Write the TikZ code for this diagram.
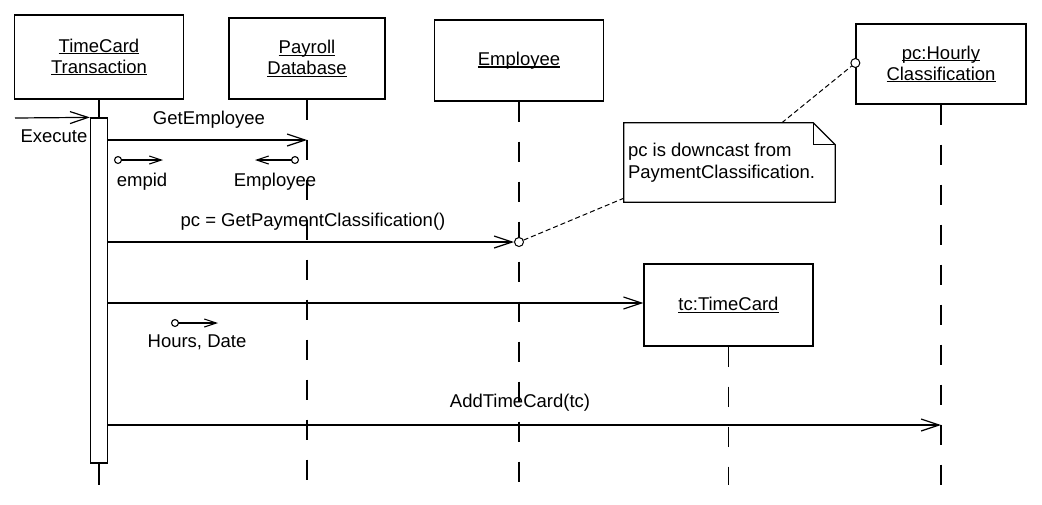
\documentclass[tikz,border=0pt]{standalone}
\usepackage{fontspec}
\setmainfont{Liberation Sans}
\usetikzlibrary{arrows.meta}
\newcommand{\uln}[1]{\setbox0\hbox{#1}\rlap{\rule[-2.4pt]{\wd0}{1.3pt}}\box0}
\begin{document}
\begin{tikzpicture}[x=1pt,y=-1pt,
  every node/.style={font=\fontsize{18.5}{21}\selectfont, inner sep=0pt},
  obj/.style={draw, line width=1.3pt, rectangle, align=center},
  lbl/.style={text height=13pt, text depth=4pt},
  life/.style={line width=1.2pt, dash pattern=on 20pt off 20pt},
  solidlife/.style={line width=1.2pt},
  msg/.style={line width=1.2pt, -{Straight Barb[length=18pt,width=12pt,line width=1.2pt]}},
  tok/.style={line width=1.1pt, {Circle[open,length=8pt,width=8pt,line width=1.1pt]}-{Straight Barb[length=12pt,width=8pt,line width=1.1pt]}},
  anchorc/.style={circle, draw, line width=1pt, minimum size=9pt, inner sep=0pt, fill=white},
  notelink/.style={line width=1pt, dash pattern=on 5pt off 3pt},
]
\useasboundingbox (0,0) rectangle (1042,504);
\fill[white] (0,0) rectangle (1042,504);

% objects
\node[obj, minimum width=169pt, minimum height=84pt] (tct) at (99,57) {\uln{TimeCard}\\\uln{Transaction}};
\node[obj, minimum width=156pt, minimum height=81pt] (pdb) at (307,58.5) {\uln{Payroll}\\\uln{Database}};
\node[obj, minimum width=169pt, minimum height=81pt] (emp) at (519,60.5) {\uln{Employee}};
\node[obj, minimum width=170pt, minimum height=80pt] (pch) at (941,64) {\uln{pc:Hourly}\\\uln{Classification}};
\node[obj, minimum width=169pt, minimum height=82pt] (tcc) at (728.5,305) {\uln{tc:TimeCard}};

% activation bar
\node[draw, line width=1.2pt, minimum width=17pt, minimum height=345pt, fill=white] (act) at (99,290.5) {};

% rows
\coordinate (bot) at (0,485);
\coordinate (r1) at (0,140);
\coordinate (r2) at (0,242);
\coordinate (r3) at (0,303);
\coordinate (r4) at (0,425);
\coordinate (exs) at (15,118);

% lifelines
\draw[solidlife] (tct.south) -- (act.north);
\draw[solidlife] (act.south) -- (act.south |- bot);
\draw[life] (pdb.south) -- (pdb.south |- bot);
\draw[life] (emp.south) -- (emp.south |- bot);
\draw[life] (pch.south) -- (pch.south |- bot);
\draw[life] (tcc.south) -- (tcc.south |- bot);

% note
\node[minimum width=211pt, minimum height=79pt] (note) at (729.5,162.5) {};
\draw[line width=1.2pt, fill=white] (note.north west) -- ([xshift=-22pt]note.north east)
  -- ([yshift=-22pt]note.north east) -- (note.south east) -- (note.south west) -- cycle;
\draw[line width=1.1pt] ([xshift=-22pt]note.north east) -- ([xshift=-22pt,yshift=-22pt]note.north east)
  -- ([yshift=-22pt]note.north east);
\node[align=left, anchor=west, font=\fontsize{18.5}{22}\selectfont] (notetxt) at ([xshift=4pt]note.west)
  {pc is downcast from\\PaymentClassification.};

% anchor circles
\node[anchorc] (c1) at (emp.south |- r2) {};
\node[anchorc] (c2) at (pch.west |- 0,63) {};
\draw[notelink] (c1) -- ([yshift=4pt]note.south west);
\draw[notelink] ([xshift=158pt]note.north west) -- (c2);

% messages
\draw[msg] (exs) -- (act.north west);
\node[lbl] (lexe) at (54,138) {Execute};

\draw[msg] (act.east |- r1) -- (pdb.south |- r1);
\node[lbl] (lget) at (209,120) {GetEmployee};

\coordinate (t1) at (114,160);
\draw[tok] (t1) -- ++(49,0);
\node[lbl] (lemp) at (142,182) {empid};

\coordinate (t2) at (299,160);
\draw[tok] (t2) -- ++(-44,0);
\node[lbl] (lret) at (275,182) {Employee};

\draw[msg] (act.east |- r2) -- (c1.west);
\node[lbl] (lpc) at (313,222) {pc = GetPaymentClassification()};

\draw[msg] (act.east |- r3) -- (tcc.west |- r3);

\coordinate (t3) at (171,323);
\draw[tok] (t3) -- ++(47,0);
\node[lbl] (lhd) at (197,343) {Hours, Date};

\draw[msg] (act.east |- r4) -- (pch.south |- r4);
\node[lbl] (ladd) at (520,403) {AddTimeCard(tc)};
\end{tikzpicture}
\end{document}
